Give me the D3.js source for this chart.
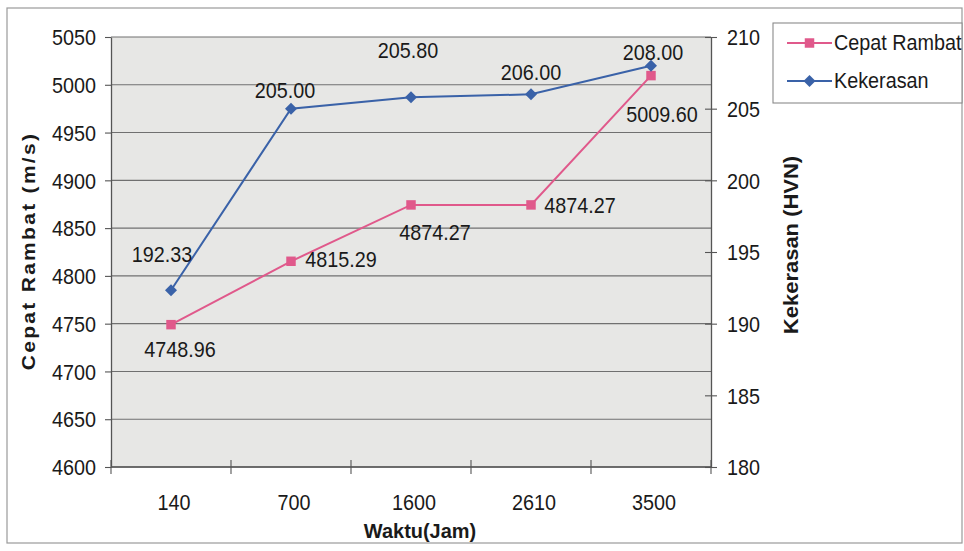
<!DOCTYPE html>
<html>
<head>
<meta charset="utf-8">
<script src="https://cdn.jsdelivr.net/npm/d3@7"></script>
<style>
  html, body { margin: 0; padding: 0; background: #ffffff; }
  svg { display: block; font-family: "Liberation Sans", Arial, sans-serif; }
</style>
</head>
<body>
<svg id="chart" width="964" height="551"></svg>
<script>
// ---- data ----
const categories = ["140", "700", "1600", "2610", "3500"];
const cepatRambat = [4748.96, 4815.29, 4874.27, 4874.27, 5009.60];
const kekerasan = [192.33, 205.00, 205.80, 206.00, 208.00];
const leftTicks = [4600, 4650, 4700, 4750, 4800, 4850, 4900, 4950, 5000, 5050];
const rightTicks = [180, 185, 190, 195, 200, 205, 210];
const seriesNames = ["Cepat Rambat", "Kekerasan"];

// label offsets (styling only), relative to each point
const cepatLabelOffset = [[9, 32], [50, 6], [24, 35], [49, 8], [11, 46]];
const kekerasanLabelOffset = [[-9, -28], [-6, -11], [-3, -39], [0, -14], [2, -6]];

// ---- layout ----
const W = 964, H = 551;
const plot = { left: 111, right: 711, top: 37, bottom: 467 };
const pink = "#e0598b", blue = "#3a62a8";
const gridColor = "#707070", axisColor = "#555555", textColor = "#1a1a1a";
const SX = 0.9; // horizontal condense factor for text

const svg = d3.select("#chart");

// outer chart border
svg.append("rect").attr("x", 7).attr("y", 8).attr("width", 955).attr("height", 535)
  .attr("fill", "#ffffff").attr("stroke", "#9a9a9a").attr("stroke-width", 1.2);

const x = d3.scaleBand().domain(categories).range([plot.left, plot.right]).padding(0);
const cx = c => x(c) + x.bandwidth() / 2;
const yL = d3.scaleLinear().domain([4600, 5050]).range([plot.bottom, plot.top]);
const yR = d3.scaleLinear().domain([180, 210]).range([plot.bottom, plot.top]);

// plot background
svg.append("rect").attr("x", plot.left).attr("y", plot.top)
  .attr("width", plot.right - plot.left).attr("height", plot.bottom - plot.top)
  .attr("fill", "#e7e7e5");

// gridlines
svg.append("g").selectAll("line").data(leftTicks).join("line")
  .attr("x1", plot.left).attr("x2", plot.right)
  .attr("y1", d => yL(d)).attr("y2", d => yL(d))
  .attr("stroke", gridColor).attr("stroke-width", 1.1);

function styleText(sel, size, weight) {
  sel.attr("font-size", size).attr("font-weight", weight || "normal").attr("fill", textColor);
}

// left axis
const gL = svg.append("g").attr("transform", `translate(${plot.left},0)`)
  .call(d3.axisLeft(yL).tickValues(leftTicks).tickSize(6).tickSizeOuter(0).tickPadding(9).tickFormat(d3.format("d")));
gL.select(".domain").attr("stroke", axisColor).attr("stroke-width", 1.3);
gL.selectAll(".tick line").attr("stroke", axisColor).attr("stroke-width", 1.1);
gL.selectAll(".tick text").call(styleText, 22).attr("dy", "0.35em")
  .attr("transform", `scale(${SX},1)`).attr("x", -15 / SX);

// right axis
const gR = svg.append("g").attr("transform", `translate(${plot.right},0)`)
  .call(d3.axisRight(yR).tickValues(rightTicks).tickSize(6).tickSizeOuter(0).tickPadding(10).tickFormat(d3.format("d")));
gR.select(".domain").attr("stroke", axisColor).attr("stroke-width", 1.3);
gR.selectAll(".tick line").attr("stroke", axisColor).attr("stroke-width", 1.1).attr("x1", -6);
gR.selectAll(".tick text").call(styleText, 22).attr("dy", "0.35em")
  .attr("transform", `scale(${SX},1)`).attr("x", 16 / SX);

// bottom axis line and boundary ticks
svg.append("line").attr("x1", plot.left).attr("x2", plot.right)
  .attr("y1", plot.bottom).attr("y2", plot.bottom)
  .attr("stroke", axisColor).attr("stroke-width", 1.3);
const bounds = categories.map(c => x(c)).concat([x(categories[categories.length - 1]) + x.bandwidth()]);
svg.append("g").selectAll("line").data(bounds).join("line")
  .attr("x1", d => d).attr("x2", d => d)
  .attr("y1", plot.bottom - 7).attr("y2", plot.bottom + 7)
  .attr("stroke", axisColor).attr("stroke-width", 1.1);
svg.append("g").selectAll("text").data(categories).join("text")
  .attr("transform", d => `translate(${cx(d) + 3},510) scale(${SX},1)`)
  .attr("text-anchor", "middle").call(styleText, 22).text(d => d);

// axis titles
svg.append("text").attr("transform", `translate(420,538) scale(0.95,1)`)
  .attr("text-anchor", "middle").call(styleText, 21, "bold").text("Waktu(Jam)");
svg.append("text").attr("transform", `translate(35,251) rotate(-90) scale(1,${SX})`)
  .attr("text-anchor", "middle").attr("letter-spacing", 2.3).call(styleText, 21, "bold")
  .text("Cepat Rambat (m/s)");
svg.append("text").attr("transform", `translate(798,245) rotate(-90) scale(1,${SX})`)
  .attr("text-anchor", "middle").call(styleText, 22, "bold").text("Kekerasan (HVN)");

// series lines
const lineL = d3.line().x((d, i) => cx(categories[i])).y(d => yL(d));
const lineR = d3.line().x((d, i) => cx(categories[i])).y(d => yR(d));
svg.append("path").datum(cepatRambat).attr("d", lineL)
  .attr("fill", "none").attr("stroke", pink).attr("stroke-width", 2);
svg.append("path").datum(kekerasan).attr("d", lineR)
  .attr("fill", "none").attr("stroke", blue).attr("stroke-width", 2);

// markers
const sq = d3.symbol().type(d3.symbolSquare).size(90);
const dia = "M0,-6L6,0L0,6L-6,0Z";
svg.append("g").selectAll("path").data(cepatRambat).join("path")
  .attr("d", sq).attr("fill", pink)
  .attr("transform", (d, i) => `translate(${cx(categories[i])},${yL(d)})`);
svg.append("g").selectAll("path").data(kekerasan).join("path")
  .attr("d", dia).attr("fill", blue)
  .attr("transform", (d, i) => `translate(${cx(categories[i])},${yR(d)})`);

// data labels
svg.append("g").selectAll("text").data(cepatRambat).join("text")
  .attr("transform", (d, i) => `translate(${cx(categories[i]) + cepatLabelOffset[i][0]},${yL(d) + cepatLabelOffset[i][1]}) scale(${SX},1)`)
  .attr("text-anchor", "middle").call(styleText, 22).text(d => d3.format(".2f")(d));
svg.append("g").selectAll("text").data(kekerasan).join("text")
  .attr("transform", (d, i) => `translate(${cx(categories[i]) + kekerasanLabelOffset[i][0]},${yR(d) + kekerasanLabelOffset[i][1]}) scale(${SX},1)`)
  .attr("text-anchor", "middle").call(styleText, 22).text(d => d3.format(".2f")(d));

// legend
const lg = svg.append("g");
lg.append("rect").attr("x", 773).attr("y", 23).attr("width", 189).attr("height", 80)
  .attr("fill", "#ffffff").attr("stroke", "#8a8a8a").attr("stroke-width", 1.1);
const legendItems = [
  { name: seriesNames[0], color: pink, sym: sq, y: 43 },
  { name: seriesNames[1], color: blue, sym: dia, y: 81 }
];
legendItems.forEach(it => {
  lg.append("line").attr("x1", 787).attr("x2", 832).attr("y1", it.y).attr("y2", it.y)
    .attr("stroke", it.color).attr("stroke-width", 2);
  lg.append("path").attr("d", it.sym).attr("fill", it.color)
    .attr("transform", `translate(809.5,${it.y})`);
  lg.append("text").attr("transform", `translate(834,${it.y + 7}) scale(${SX},1)`)
    .call(styleText, 22).text(it.name);
});
</script>
</body>
</html>
